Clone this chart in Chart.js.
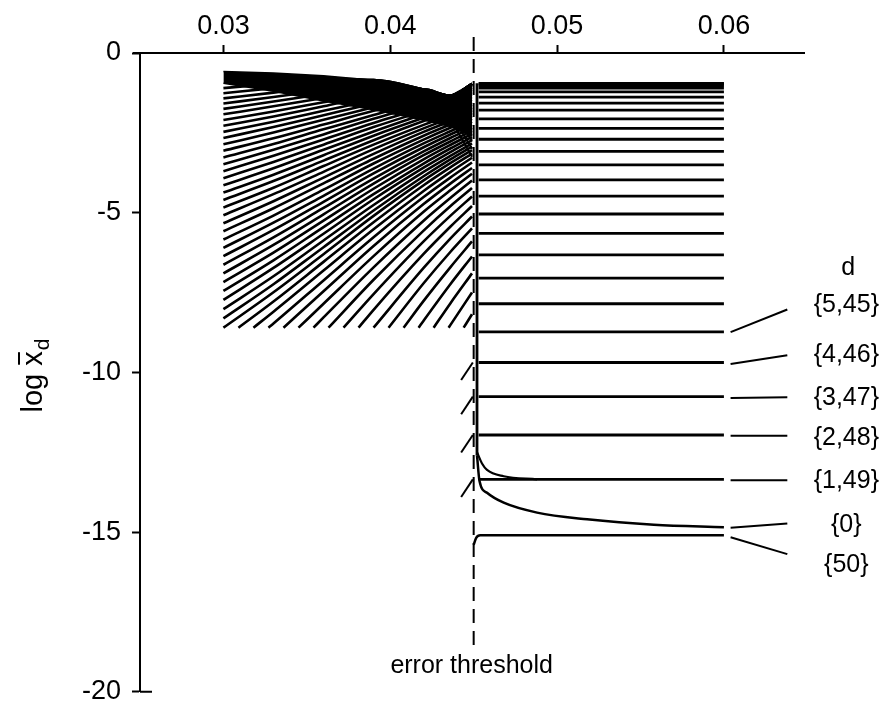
<!DOCTYPE html>
<html>
<head>
<meta charset="utf-8">
<script src="https://cdn.jsdelivr.net/npm/chart.js@4.4.1/dist/chart.umd.min.js"></script>
<style>
  html, body { margin: 0; padding: 0; background: #fff; }
  #wrap { width: 882px; height: 719px; }
</style>
</head>
<body>
<div id="wrap"><canvas id="chart" width="882" height="719"></canvas></div>
<script>
  // ---- values ----
  const xTicks = [0.03, 0.04, 0.05, 0.06];
  const yTicks = [0, -5, -10, -15, -20];
  const threshold = 0.045;

  // left of the threshold: sample positions for every curve
  const fanX = [0.030, 0.033, 0.036, 0.039, 0.042, 0.0436, 0.0449];
  const fanFloor = -8.6;
  const bandTop = [-0.58, -0.63, -0.71, -0.85, -1.14, -1.34, -0.97];
  const bandBottom = [-0.95, -1.20, -1.50, -1.78, -2.10, -2.30, -2.60];

  // curves starting on the left edge (x = 0.03)
  const fanRows = [
    [-1.10, -0.96, -0.81, -0.85, -1.14, -1.34, -0.97],
    [-1.26, -1.10, -0.92, -0.85, -1.14, -1.34, -0.97],
    [-1.42, -1.24, -1.04, -0.85, -1.14, -1.34, -0.97],
    [-1.58, -1.38, -1.16, -0.94, -1.14, -1.34, -0.97],
    [-1.75, -1.52, -1.28, -1.04, -1.14, -1.34, -0.97],
    [-1.92, -1.67, -1.41, -1.14, -1.14, -1.34, -0.97],
    [-2.10, -1.83, -1.54, -1.25, -1.14, -1.34, -0.97],
    [-2.28, -1.99, -1.67, -1.35, -1.14, -1.34, -0.97],
    [-2.47, -2.15, -1.81, -1.47, -1.15, -1.34, -0.97],
    [-2.66, -2.32, -1.95, -1.58, -1.23, -1.34, -0.97],
    [-2.86, -2.49, -2.09, -1.70, -1.33, -1.34, -1.01],
    [-3.06, -2.67, -2.24, -1.81, -1.42, -1.34, -1.08],
    [-3.27, -2.85, -2.39, -1.94, -1.52, -1.34, -1.15],
    [-3.48, -3.03, -2.55, -2.06, -1.62, -1.40, -1.23],
    [-3.70, -3.22, -2.71, -2.19, -1.72, -1.48, -1.31],
    [-3.92, -3.41, -2.87, -2.32, -1.82, -1.57, -1.38],
    [-4.14, -3.61, -3.03, -2.46, -1.92, -1.66, -1.46],
    [-4.37, -3.81, -3.20, -2.59, -2.03, -1.75, -1.54],
    [-4.60, -4.01, -3.37, -2.73, -2.13, -1.84, -1.62],
    [-4.84, -4.22, -3.54, -2.87, -2.25, -1.94, -1.71],
    [-5.08, -4.42, -3.72, -3.01, -2.36, -2.04, -1.79],
    [-5.33, -4.64, -3.90, -3.16, -2.47, -2.14, -1.88],
    [-5.58, -4.86, -4.08, -3.31, -2.59, -2.24, -1.97],
    [-5.84, -5.09, -4.28, -3.46, -2.71, -2.34, -2.06],
    [-6.10, -5.31, -4.47, -3.62, -2.83, -2.45, -2.15],
    [-6.36, -5.54, -4.66, -3.77, -2.95, -2.55, -2.25],
    [-6.63, -5.77, -4.85, -3.93, -3.08, -2.66, -2.34],
    [-6.90, -6.01, -5.05, -4.09, -3.20, -2.77, -2.44],
    [-7.17, -6.25, -5.25, -4.25, -3.33, -2.88, -2.53],
    [-7.45, -6.49, -5.45, -4.42, -3.46, -2.99, -2.63],
    [-7.73, -6.73, -5.66, -4.58, -3.59, -3.10, -2.73],
    [-8.02, -6.99, -5.87, -4.76, -3.72, -3.22, -2.83],
    [-8.31, -7.24, -6.08, -4.93, -3.86, -3.33, -2.93],
    [-8.60, -7.49, -6.30, -5.10, -3.99, -3.45, -3.04]
  ];

  // curves entering through the lower edge of the fan (y = -8.6)
  const entryX = [0.0309, 0.0318, 0.0327, 0.0336, 0.0345, 0.0354, 0.0363, 0.0372,
                  0.0381, 0.0390, 0.0399, 0.0408, 0.0417, 0.0426, 0.0435, 0.0444];
  const entryRows = [
    [null, -7.78, -6.54, -5.30, -4.14, -3.58, -3.15],
    [null, -8.10, -6.81, -5.52, -4.32, -3.73, -3.28],
    [null, -8.47, -7.12, -5.77, -4.51, -3.90, -3.43],
    [null, null, -7.46, -6.04, -4.73, -4.09, -3.60],
    [null, null, -7.85, -6.36, -4.97, -4.30, -3.78],
    [null, null, -8.28, -6.71, -5.25, -4.54, -3.99],
    [null, null, null, -7.10, -5.56, -4.80, -4.23],
    [null, null, null, -7.55, -5.90, -5.10, -4.49],
    [null, null, null, -8.04, -6.29, -5.44, -4.79],
    [null, null, null, null, -6.73, -5.81, -5.12],
    [null, null, null, null, -7.21, -6.23, -5.49],
    [null, null, null, null, -7.76, -6.71, -5.90],
    [null, null, null, null, -8.38, -7.24, -6.37],
    [null, null, null, null, null, -7.84, -6.90],
    [null, null, null, null, null, -8.52, -7.50],
    [null, null, null, null, null, null, -8.18]
  ];

  // short falling strokes just before the threshold
  const plungeX = [0.0437, 0.0449];
  const plungeRows = [[-1.75, -2.75], [-1.95, -3.00], [-2.15, -3.25]];

  // small rising strokes met at the threshold, lower classes
  const hookX = [0.04425, 0.04495];
  const hookLevels = [-9.69, -10.76, -11.96, -13.35];

  // right of the threshold: flat classes d = 25 ... 1
  const rightX = [0.0453, 0.0600];
  const rightLevels = [-0.95, -0.97, -1.02, -1.10, -1.22, -1.38, -1.57, -1.79, -2.06,
                       -2.36, -2.70, -3.08, -3.50, -3.97, -4.48, -5.04, -5.65, -6.32,
                       -7.05, -7.85, -8.73, -9.69, -10.76, -11.96, -13.35];
  const dropX = [0.0452, 0.0452];
  const dropY = [-0.95, -12.6];
  const masterX = [0.0452, 0.04535, 0.0458, 0.0468, 0.0488, 0.0518, 0.0558, 0.0600];
  const masterY = [-12.6, -13.4, -13.77, -14.08, -14.39, -14.60, -14.77, -14.85];
  const class1X = [0.0452, 0.0455, 0.0458, 0.0468, 0.0488];
  const class1Y = [-12.5, -12.85, -13.05, -13.25, -13.35];
  const class50X = [0.0450, 0.04515, 0.0454, 0.0600];
  const class50Y = [-15.4, -15.18, -15.1, -15.1];

  // class labels at the right
  const legendLabels = ['{5,45}', '{4,46}', '{3,47}', '{2,48}', '{1,49}', '{0}', '{50}'];
  const leaderX = [0.0604, 0.0638];
  const leaderStart = [-8.74, -9.74, -10.80, -11.98, -13.38, -14.86, -15.16];
  const leaderEnd = [-8.03, -9.46, -10.78, -11.98, -13.38, -14.73, -15.69];
  const labelLevels = [-7.88, -9.46, -10.82, -12.06, -13.40, -14.79, -16.03];
  const headerLevel = -6.73;
  const thresholdLabelLevel = -19.2;

  // ---- build datasets ----
  const FONT = "'Liberation Sans', Arial, Helvetica, sans-serif";
  const pts = (xs, ys) => xs.map((x, i) => ({ x, y: ys[i] })).filter(p => p.y !== null);
  const line = (data, extra) => Object.assign({
    data, borderColor: '#000', borderWidth: 2, pointRadius: 0, fill: false, tension: 0
  }, extra || {});

  const datasets = [];
  datasets.push(line(pts(fanX, bandTop), { fill: '+1', backgroundColor: '#000', borderWidth: 1.5 }));
  datasets.push(line(pts(fanX, bandBottom), { borderWidth: 1.5 }));

  fanRows.forEach(row => {
    datasets.push(line(pts(fanX, row), { cubicInterpolationMode: 'monotone', borderWidth: 2.6 }));
  });
  entryRows.forEach((row, i) => {
    const p = [{ x: entryX[i], y: fanFloor }].concat(pts(fanX, row).filter(q => q.x > entryX[i]));
    datasets.push(line(p, { cubicInterpolationMode: 'monotone', borderWidth: 2.6 }));
  });
  plungeRows.forEach(row => datasets.push(line(pts(plungeX, row), { borderWidth: 2 })));
  hookLevels.forEach(L => datasets.push(line(pts(hookX, [L - 0.55, L]), { borderWidth: 2 })));

  rightLevels.forEach(L => datasets.push(line(pts(rightX, [L, L]), { borderWidth: 2.8 })));
  datasets.push(line(pts(dropX, dropY), { borderWidth: 2.8 }));
  datasets.push(line(pts(masterX, masterY), { cubicInterpolationMode: 'monotone', borderWidth: 2.5 }));
  datasets.push(line(pts(class1X, class1Y), { cubicInterpolationMode: 'monotone', borderWidth: 2.2 }));
  datasets.push(line(pts(class50X, class50Y), { cubicInterpolationMode: 'monotone', borderWidth: 2.5 }));

  leaderStart.forEach((s, i) => {
    datasets.push(line(pts(leaderX, [s, leaderEnd[i]]), { borderWidth: 2 }));
  });

  // dashed error-threshold line, reaching above the top axis
  datasets.push(line(pts([threshold, threshold], [0.5, -18.6]), {
    borderDash: [14, 8], borderWidth: 2, clip: false
  }));

  // ---- text and axis details drawn on top ----
  const annotate = {
    id: 'annotate',
    afterDraw(chart) {
      const { ctx, scales: { x, y } } = chart;
      ctx.save();
      ctx.fillStyle = '#000';
      ctx.strokeStyle = '#000';

      // axis ends
      ctx.lineWidth = 2;
      ctx.beginPath();
      ctx.moveTo(x.left - 7, y.top); ctx.lineTo(x.left, y.top);
      ctx.moveTo(x.left, y.getPixelForValue(-20)); ctx.lineTo(x.left + 12, y.getPixelForValue(-20));
      ctx.stroke();

      // class labels
      ctx.textAlign = 'center';
      ctx.textBaseline = 'middle';
      ctx.font = '25px ' + FONT;
      const lx = x.getPixelForValue(leaderX[1]) + 59;
      ctx.fillText('d', lx + 2, y.getPixelForValue(headerLevel));
      legendLabels.forEach((t, i) => ctx.fillText(t, lx, y.getPixelForValue(labelLevels[i])));

      ctx.font = '25px ' + FONT;
      ctx.fillText('error threshold', x.getPixelForValue(threshold) - 2, y.getPixelForValue(thresholdLabelLevel));

      // y title: log x-bar with subscript d
      ctx.translate(33, 376);
      ctx.rotate(-Math.PI / 2);
      ctx.textAlign = 'left';
      ctx.textBaseline = 'alphabetic';
      ctx.font = '29px ' + FONT;
      const main = 'log x';
      const w1 = ctx.measureText(main).width;
      const wx = ctx.measureText('x').width;
      ctx.font = '21px ' + FONT;
      const w2 = ctx.measureText('d').width;
      const x0 = -(w1 + w2) / 2;
      ctx.font = '29px ' + FONT;
      ctx.fillText(main, x0, 9);
      ctx.fillRect(x0 + w1 - wx + 1, 9 - 24, wx - 2, 2);
      ctx.font = '21px ' + FONT;
      ctx.fillText('d', x0 + w1 + 1, 16);
      ctx.restore();
    }
  };

  new Chart(document.getElementById('chart'), {
    type: 'line',
    data: { datasets },
    options: {
      responsive: false,
      animation: false,
      devicePixelRatio: 1,
      events: [],
      layout: { padding: { left: 0, top: 0, right: 78, bottom: 21 } },
      plugins: { legend: { display: false }, tooltip: { enabled: false } },
      scales: {
        x: {
          type: 'linear',
          position: 'top',
          min: 0.025,
          max: 0.0648,
          afterBuildTicks: s => { s.ticks = xTicks.map(v => ({ value: v })); },
          afterFit: s => { s.height = 53; },
          grid: { display: true, drawOnChartArea: false, drawTicks: true, tickLength: 8, tickWidth: 2, tickColor: '#000' },
          border: { display: true, color: '#000', width: 2 },
          ticks: {
            color: '#000', font: { family: FONT, size: 27 }, padding: 2,
            maxRotation: 0, autoSkip: false, callback: v => v.toFixed(2)
          }
        },
        y: {
          type: 'linear',
          min: -20,
          max: 0,
          afterBuildTicks: s => { s.ticks = yTicks.map(v => ({ value: v })); },
          afterFit: s => { s.width = 140; },
          grid: { display: true, drawOnChartArea: false, drawTicks: true, tickLength: 8, tickWidth: 2, tickColor: '#000' },
          border: { display: true, color: '#000', width: 2 },
          ticks: {
            color: '#000', font: { family: FONT, size: 27 }, padding: 11,
            autoSkip: false, callback: v => String(v)
          }
        }
      }
    },
    plugins: [annotate]
  });
</script>
</body>
</html>
